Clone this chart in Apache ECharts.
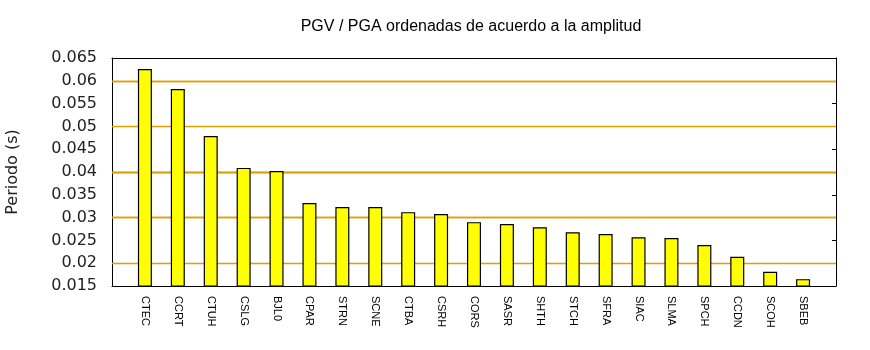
<!DOCTYPE html>
<html>
<head>
<meta charset="utf-8">
<script src="https://cdn.jsdelivr.net/npm/echarts@6/dist/echarts.min.js"></script>
<style>
  html, body { margin: 0; padding: 0; background: #fff; }
  #chart { width: 870px; height: 350px; }
</style>
</head>
<body>
<div id="chart"></div>
<script>
// Stations sorted by amplitude and their PGV/PGA period (s)
const stations = ['CTEC', 'CCRT', 'CTUH', 'CSLG', 'BJL0', 'CPAR', 'STRN', 'SCNE', 'CTBA', 'CSRH',
  'CORS', 'SASR', 'SHTH', 'STCH', 'SFRA', 'SIAC', 'SLMA', 'SPCH', 'CCDN', 'SCOH', 'SBEB'];
const periods = [0.0626, 0.0582, 0.0479, 0.0409, 0.0402, 0.0332, 0.0323, 0.0323, 0.0312, 0.0308,
  0.0290, 0.0286, 0.0279, 0.0268, 0.0264, 0.0257, 0.0255, 0.0240, 0.0214, 0.0181, 0.0165];
const yTicks = { min: 0.015, max: 0.065, step: 0.005 };
// Inner horizontal grid levels (between the frame edges)
const gridLevels = [0.02, 0.025, 0.03, 0.035, 0.04, 0.045, 0.05, 0.055, 0.06];

// One empty slot on each side so the bars sit one step away from the frame
const cats = [''].concat(stations, ['']);
const vals = ['-'].concat(periods, ['-']);

const chart = echarts.init(document.getElementById('chart'), null, { renderer: 'canvas' });
const gridColor = '#e0a000';
const frame = { show: true, onZero: false, lineStyle: { color: '#000', width: 1 } };

chart.setOption({
  animation: false,
  backgroundColor: '#ffffff',
  title: {
    text: 'PGV / PGA ordenadas de acuerdo a la amplitud',
    left: 466, top: 14, textAlign: 'center',
    textStyle: { fontFamily: 'Liberation Sans', fontSize: 16, fontWeight: 'normal', color: '#000' }
  },
  grid: { left: 112, right: 34, top: 58, bottom: 64, outerBoundsMode: 'none', containLabel: false },
  xAxis: [{
    type: 'category',
    data: cats,
    boundaryGap: false,
    axisLine: frame,
    axisTick: { show: false },
    splitLine: { show: false },
    axisLabel: {
      interval: 0, rotate: -90, margin: 10,
      fontFamily: 'Liberation Sans', fontSize: 11, color: '#000'
    }
  }, {
    type: 'category', position: 'top',
    data: cats, boundaryGap: false,
    axisLine: frame,
    axisTick: { show: false },
    axisLabel: { show: false },
    splitLine: { show: false }
  }],
  yAxis: [{
    type: 'value',
    min: yTicks.min, max: yTicks.max, interval: yTicks.step,
    name: 'Periodo (s)', nameLocation: 'middle', nameGap: 91,
    nameTextStyle: { fontFamily: 'DejaVu Sans', fontSize: 16, color: '#222' },
    axisLine: frame,
    axisTick: { show: false },
    axisLabel: { fontFamily: 'DejaVu Sans', fontSize: 16, color: '#222', margin: 15 },
    splitLine: { show: false }
  }, {
    type: 'value', position: 'right',
    min: yTicks.min, max: yTicks.max, interval: yTicks.step,
    axisLine: frame,
    axisTick: { show: true, inside: true, length: 4, lineStyle: { color: '#000', width: 1 } },
    axisLabel: { show: false },
    splitLine: { show: false }
  }],
  series: [{
    type: 'bar',
    data: vals,
    barWidth: 14,
    z: 3,
    itemStyle: { color: '#ffff00', borderColor: '#000', borderWidth: 1.2 },
    markLine: {
      silent: true,
      symbol: 'none',
      z: 1,
      label: { show: false },
      lineStyle: { color: gridColor, width: 1.4, type: 'solid', opacity: 1 },
      data: gridLevels.map(v => ({ yAxis: v }))
    }
  }]
});
</script>
</body>
</html>
